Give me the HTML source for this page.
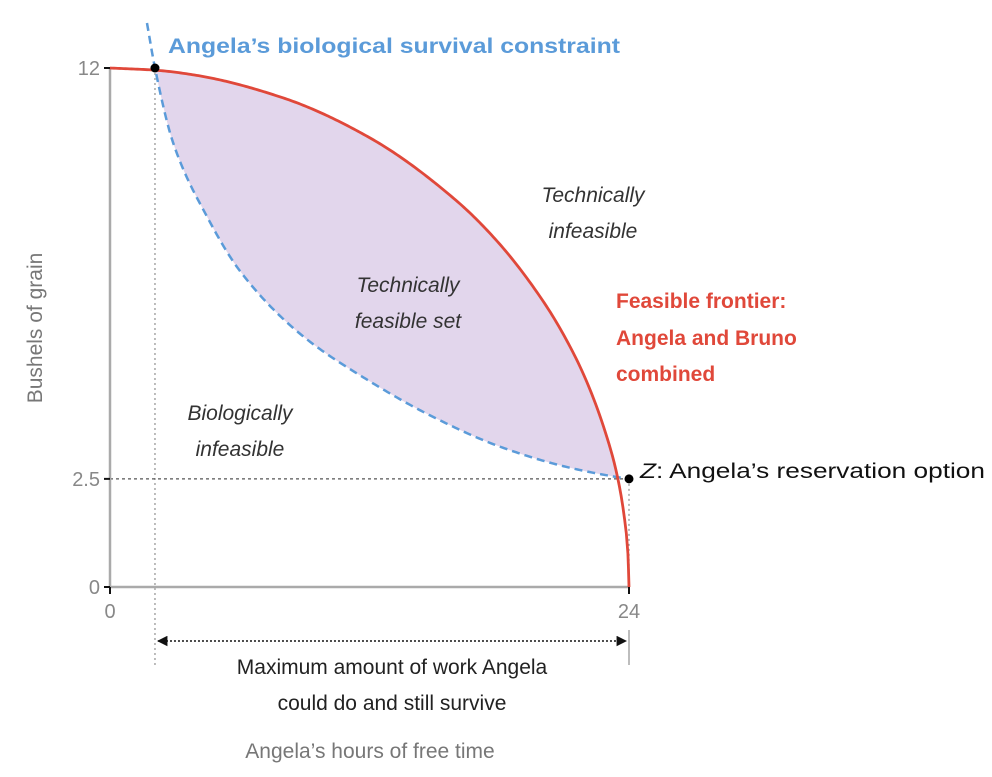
<!DOCTYPE html>
<html><head><meta charset="utf-8"><style>
html,body{margin:0;padding:0;background:#fff;}
svg text{font-family:"Liberation Sans",sans-serif;}
</style></head><body>
<svg id="chart" width="992" height="772" viewBox="0 0 992 772" xmlns="http://www.w3.org/2000/svg">
<defs>
<marker id="ah" viewBox="0 0 10 10" refX="9" refY="5" markerWidth="7" markerHeight="7" orient="auto-start-reverse"><path d="M0,0 L10,5 L0,10 z" fill="#111"/></marker>
</defs>
<g id="plot"></g>
<g id="labels">
<text x="168" y="53" font-size="21" font-weight="bold" fill="#5b9bd9" textLength="452" lengthAdjust="spacingAndGlyphs">Angela’s biological survival constraint</text>
<text font-size="21" font-style="italic" fill="#333" text-anchor="middle"><tspan x="593" y="202">Technically</tspan><tspan x="593" y="238">infeasible</tspan></text>
<text font-size="21" font-style="italic" fill="#333" text-anchor="middle"><tspan x="408" y="292">Technically</tspan><tspan x="408" y="328">feasible set</tspan></text>
<text font-size="21" font-style="italic" fill="#333" text-anchor="middle"><tspan x="240" y="420">Biologically</tspan><tspan x="240" y="456">infeasible</tspan></text>
<text font-size="21" font-weight="bold" fill="#e0483a"><tspan x="616" y="308">Feasible frontier:</tspan><tspan x="616" y="345">Angela and Bruno</tspan><tspan x="616" y="381">combined</tspan></text>
<text x="640" y="478" font-size="21" fill="#111" textLength="345" lengthAdjust="spacingAndGlyphs"><tspan font-style="italic">Z</tspan>: Angela’s reservation option</text>
<text font-size="21" fill="#222" text-anchor="middle"><tspan x="392" y="674">Maximum amount of work Angela</tspan><tspan x="392" y="710">could do and still survive</tspan></text>
<text x="370" y="758" font-size="21" fill="#777" text-anchor="middle">Angela’s hours of free time</text>
<text transform="translate(42,328) rotate(-90)" font-size="21" fill="#777" text-anchor="middle">Bushels of grain</text>
</g>
</svg>
<script>
const frontierX=[0,2.08,4,8,12,16,18,20,21,22,23,23.47,23.8,23.95,24];
const frontierY=[12,11.95,11.83,11.31,10.39,8.94,7.94,6.63,5.81,4.80,3.43,2.54,1.55,0.77,0];
const constraintX=[1.71,2.08,2.92,4.49,6.02,8.8,11.9,14.95,18.06,21.16,23.47,24];
const constraintY=[13.04,12,10.27,8.56,7.3,5.85,4.79,3.93,3.24,2.77,2.54,2.5];
const xTicks=[0,24];
const yTicks=[0,2.5,12];
const survivalX=2.08, survivalY=12, zX=24, zY=2.5, crossX=23.47;

const X0=110,X1=629,Y0=587,Y1=68;
const sx=v=>X0+(X1-X0)*v/24;
const sy=v=>Y0-(Y0-Y1)*v/12;
const NS='http://www.w3.org/2000/svg';
const plot=document.getElementById('plot');
function mk(t,a,parent){const e=document.createElementNS(NS,t);for(const k in a)e.setAttribute(k,a[k]);(parent||plot).appendChild(e);return e;}
// monotone cubic (Fritsch-Carlson) in pixel space, sampled densely
function monoPts(xs,ys,lo,hi){
 const px=xs.map(sx),py=ys.map(sy),n=px.length;
 const d=[],m=[];
 for(let i=0;i<n-1;i++)d.push((py[i+1]-py[i])/(px[i+1]-px[i]));
 m[0]=d[0];m[n-1]=d[n-2];
 for(let i=1;i<n-1;i++){if(d[i-1]*d[i]<=0)m[i]=0;else{const w1=2*(px[i+1]-px[i])+(px[i]-px[i-1]),w2=(px[i+1]-px[i])+2*(px[i]-px[i-1]);m[i]=(w1+w2)/(w1/d[i-1]+w2/d[i]);}}
 const out=[];
 for(let i=0;i<n-1;i++){
  const h=px[i+1]-px[i],N=Math.max(2,Math.ceil(h/2));
  for(let k=0;k<=N;k++){
   if(i>0&&k===0)continue;
   const t=k/N,xv=px[i]+t*h;
   const h00=2*t*t*t-3*t*t+1,h10=t*t*t-2*t*t+t,h01=-2*t*t*t+3*t*t,h11=t*t*t-t*t;
   const yv=h00*py[i]+h10*h*m[i]+h01*py[i+1]+h11*h*m[i+1];
   out.push([xv,yv]);
  }
 }
 return out.filter(p=>p[0]>=sx(lo)-0.01&&p[0]<=sx(hi)+0.01);
}
const poly=pts=>'M'+pts.map(p=>p[0].toFixed(2)+','+p[1].toFixed(2)).join(' L');
const fAll=monoPts(frontierX,frontierY,0,24);
const cAll=monoPts(constraintX,constraintY,constraintX[0],24);
const fSub=monoPts(frontierX,frontierY,survivalX,crossX);
const cSub=monoPts(constraintX,constraintY,survivalX,crossX);
let e=mk('path',{d:poly(fSub.concat(cSub.slice().reverse()))+' Z',fill:'#e2d6ec',stroke:'none'});


// guides
e=mk('line',{x1:sx(survivalX),y1:sy(survivalY),x2:sx(survivalX),y2:665,stroke:'#999','stroke-width':1.3,'stroke-dasharray':'2,3'});


e=mk('line',{x1:X0,y1:sy(zY),x2:sx(zX),y2:sy(zY),stroke:'#555','stroke-width':1.3,'stroke-dasharray':'3,3'});


e=mk('line',{x1:sx(zX),y1:sy(zY),x2:sx(zX),y2:Y0,stroke:'#999','stroke-width':1.3,'stroke-dasharray':'2,3'});


e=mk('line',{x1:sx(zX),y1:630,x2:sx(zX),y2:665,stroke:'#999','stroke-width':1.3});


// axes
e=mk('line',{x1:X0,y1:Y1,x2:X0,y2:Y0,stroke:'#aaa','stroke-width':2.5});


e=mk('line',{x1:X0,y1:Y0,x2:X1,y2:Y0,stroke:'#aaa','stroke-width':2.5});


yTicks.forEach(t=>{
 e=mk('line',{x1:X0-6,y1:sy(t),x2:X0,y2:sy(t),stroke:'#111','stroke-width':2});
 
 
 e=mk('text',{x:X0-10,y:sy(t)+7,'font-size':20,fill:'#888','text-anchor':'end'});
 e.textContent=String(t);
 
 
});
xTicks.forEach(t=>{
 e=mk('line',{x1:sx(t),y1:Y0,x2:sx(t),y2:Y0+7,stroke:'#111','stroke-width':2});
 
 
 e=mk('text',{x:sx(t),y:Y0+31,'font-size':20,fill:'#888','text-anchor':'middle'});
 e.textContent=String(t);
 
 
});
// curves
e=mk('path',{d:poly(cAll),fill:'none',stroke:'#5b9bd9','stroke-width':2.5,'stroke-dasharray':'8,5'});


e=mk('path',{d:poly(fAll),fill:'none',stroke:'#e0483a','stroke-width':2.8,'stroke-linejoin':'round'});


// bracket arrow
e=mk('line',{x1:sx(survivalX)+3,y1:641,x2:sx(zX)-3,y2:641,stroke:'#111','stroke-width':1.5,'stroke-dasharray':'2,2','marker-start':'url(#ah)','marker-end':'url(#ah)'});


// points
e=mk('circle',{cx:sx(survivalX),cy:sy(survivalY),r:4.5,fill:'#000'});


e=mk('circle',{cx:sx(zX),cy:sy(zY),r:4.5,fill:'#000'});


</script>
</body></html>
